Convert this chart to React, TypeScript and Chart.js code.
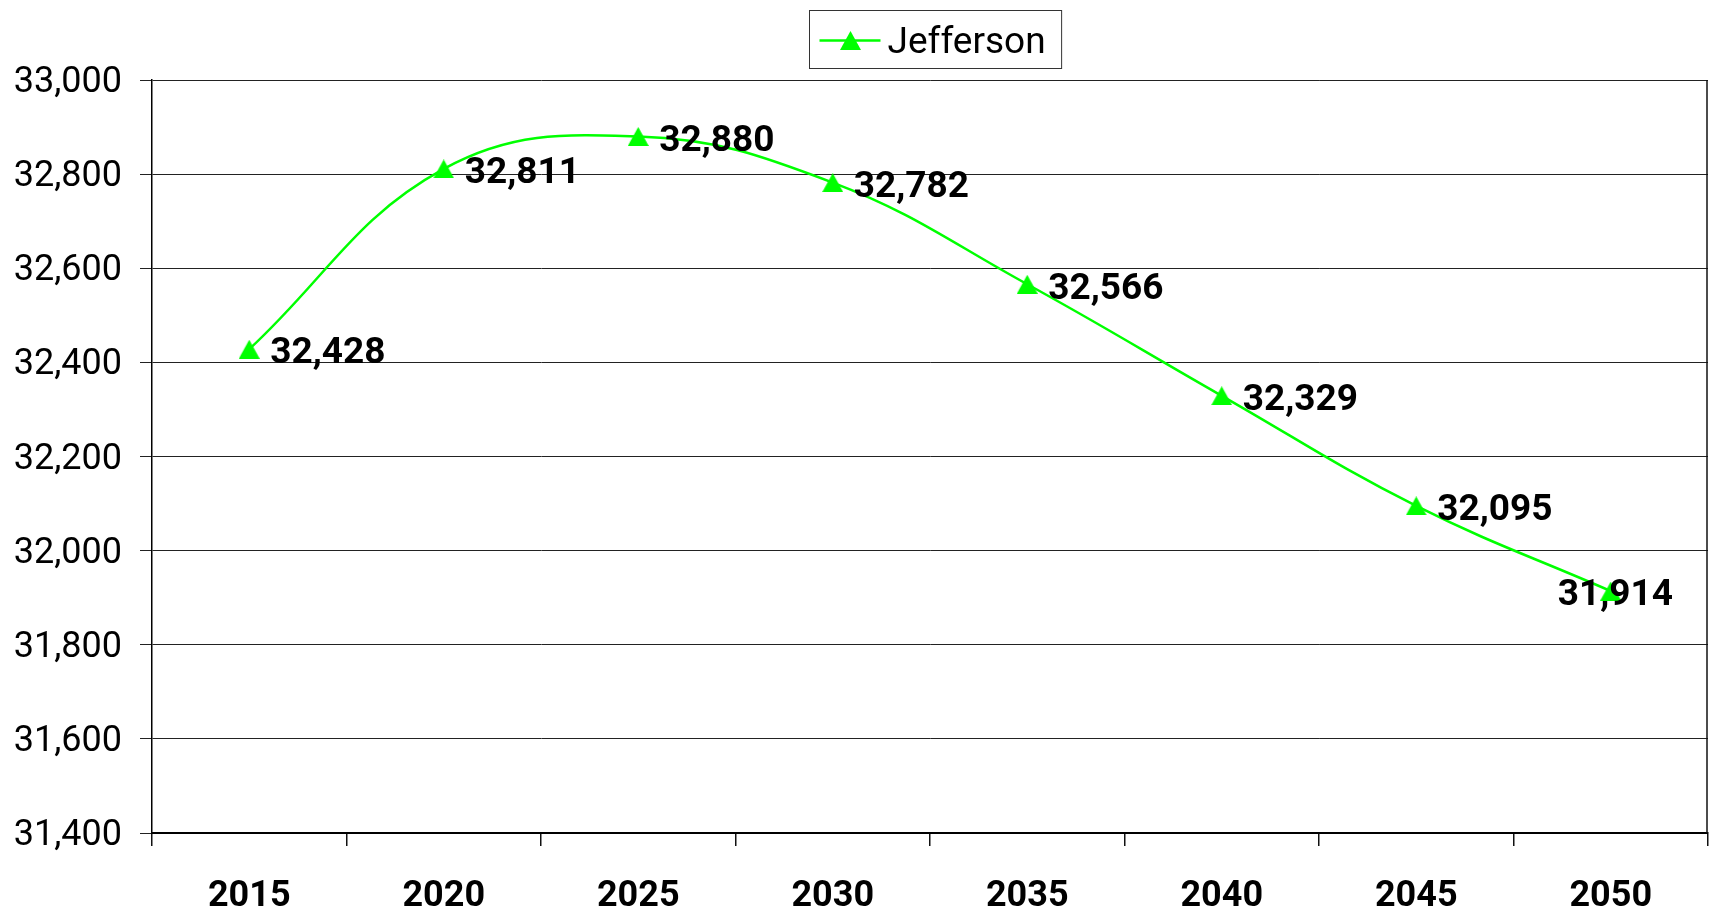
import React, { useEffect, useRef } from 'react';
import { Chart, registerables } from 'chart.js';

Chart.register(...registerables);

const years: string[] = ['2015', '2020', '2025', '2030', '2035', '2040', '2045', '2050'];
const population: number[] = [32428, 32811, 32880, 32782, 32566, 32329, 32095, 31914];
const seriesName = 'Jefferson';
const yMin = 31400;
const yMax = 33000;
const yStep = 200;

const FONT = 'Roboto, "Liberation Sans", Arial, sans-serif';
const GREEN = '#00ff00';
const fmt = (v: number) => v.toLocaleString('en-US');

function makeTriangle(w: number, h: number): HTMLCanvasElement {
  const c = document.createElement('canvas');
  c.width = w;
  c.height = h;
  const g = c.getContext('2d')!;
  g.fillStyle = GREEN;
  g.beginPath();
  g.moveTo(w / 2, 0);
  g.lineTo(w, h);
  g.lineTo(0, h);
  g.closePath();
  g.fill();
  return c;
}

export default function App() {
  const ref = useRef<HTMLCanvasElement | null>(null);

  useEffect(() => {
    document.body.style.margin = '0';
    document.body.style.overflow = 'hidden';
    const canvas = ref.current;
    if (!canvas) return;
    const tri = makeTriangle(21, 19);

    const labelPlugin = {
      id: 'pointLabels',
      afterDatasetsDraw(chart: any) {
        const ctx = chart.ctx;
        const meta = chart.getDatasetMeta(0);
        ctx.save();
        ctx.font = `bold 37px ${FONT}`;
        ctx.fillStyle = '#000';
        ctx.textBaseline = 'middle';
        ctx.textAlign = 'left';
        meta.data.forEach((pt: any, i: number) => {
          const text = fmt(population[i]);
          const w = ctx.measureText(text).width;
          let x = pt.x + 21;
          const maxRight = chart.chartArea.right - 35;
          if (x + w > maxRight) x = maxRight - w;
          ctx.fillText(text, x, pt.y + 5);
        });
        ctx.restore();
      },
    };

    const framePlugin = {
      id: 'frameAndLegend',
      beforeDatasetsDraw(chart: any) {
        const { ctx, chartArea } = chart;
        ctx.save();
        ctx.strokeStyle = '#111';
        ctx.lineWidth = 1.5;
        ctx.beginPath();
        ctx.moveTo(chartArea.right - 1, chartArea.top);
        ctx.lineTo(chartArea.right - 1, chartArea.bottom);
        ctx.stroke();
        ctx.restore();
      },
      afterDraw(chart: any) {
        const { ctx, chartArea } = chart;
        ctx.save();
        ctx.font = `37px ${FONT}`;
        const tw = ctx.measureText(seriesName).width;
        const boxW = 78 + tw + 16;
        const cx = (chartArea.left + chartArea.right) / 2 + 5;
        const bx = Math.round(cx - boxW / 2) + 0.5;
        const by = 10.5;
        const bh = 58;
        ctx.fillStyle = '#fff';
        ctx.fillRect(bx, by, boxW, bh);
        ctx.strokeStyle = '#333';
        ctx.lineWidth = 1;
        ctx.strokeRect(bx, by, boxW, bh);
        const ly = by + bh / 2;
        ctx.strokeStyle = GREEN;
        ctx.lineWidth = 2.5;
        ctx.beginPath();
        ctx.moveTo(bx + 10, ly + 1);
        ctx.lineTo(bx + 71, ly + 1);
        ctx.stroke();
        ctx.drawImage(tri, bx + 41 - tri.width / 2, ly + 1 - tri.height / 2);
        ctx.fillStyle = '#000';
        ctx.textBaseline = 'middle';
        ctx.textAlign = 'left';
        ctx.fillText(seriesName, bx + 78, ly + 4);
        ctx.restore();
      },
    };

    const chart = new Chart(canvas, {
      type: 'line',
      data: {
        labels: years,
        datasets: [
          {
            label: seriesName,
            data: population,
            borderColor: GREEN,
            backgroundColor: GREEN,
            borderWidth: 2.5,
            tension: 0.4,
            pointStyle: tri as any,
            pointRadius: 1,
            pointBorderWidth: 0,
            pointHoverRadius: 1,
            fill: false,
            clip: false as any,
          },
        ],
      },
      options: {
        animation: false,
        responsive: false,
        layout: { padding: { top: 80, left: 12, right: 0, bottom: 0 } },
        plugins: {
          legend: { display: false },
          tooltip: { enabled: false },
        },
        scales: {
          x: {
            offset: true,
            afterFit(scale: any) {
              scale.height = 83;
              scale.paddingLeft = 0;
              scale.paddingRight = 0;
            },
            grid: {
              display: true,
              drawOnChartArea: false,
              offset: true,
              tickLength: 13,
              color: '#111',
              lineWidth: 1.5,
            },
            border: { display: true, color: '#000', width: 2 },
            ticks: {
              color: '#000',
              font: { family: FONT, size: 36, weight: 'bold' },
              padding: 29,
              maxRotation: 0,
            },
          },
          y: {
            min: yMin,
            max: yMax,
            afterFit(scale: any) {
              scale.width = 140;
            },
            grid: {
              color: '#222',
              lineWidth: 1,
              tickLength: 12,
            },
            border: { display: true, color: '#000', width: 1.5 },
            ticks: {
              stepSize: yStep,
              color: '#000',
              font: { family: FONT, size: 36 },
              padding: 18,
              labelOffset: 3,
              callback: (v: any) => fmt(Number(v)),
            },
          },
        },
      },
      plugins: [framePlugin, labelPlugin],
    });
    return () => chart.destroy();
  }, []);

  return (
    <div style={{ width: 1709, height: 916 }}>
      <canvas ref={ref} width={1709} height={916} style={{ display: 'block' }} />
    </div>
  );
}
